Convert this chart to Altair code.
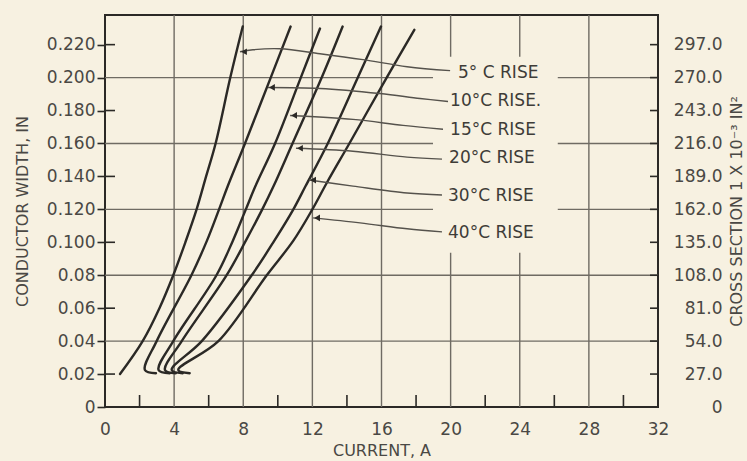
import altair as alt
import pandas as pd

BG = "#f7f1e1"
INK = "#2b2926"
GRID = "#6f6b63"
TXT = "#4a4844"
FONT = "DejaVu Sans"

# ---- curves: current (A) vs conductor width (in) ----
rises = ["5°C", "10°C", "15°C", "20°C", "30°C", "40°C"]
cur_5 = [0.87, 2.18, 3.15, 3.95, 4.65, 5.3, 5.85, 6.4, 7.25, 7.97]
w_5 = [0.020, 0.040, 0.060, 0.080, 0.100, 0.120, 0.140, 0.160, 0.200, 0.231]
cur_10 = [2.95, 2.31, 2.99, 5.0, 5.9, 6.6, 7.1, 8.10, 9.59, 10.74]
w_10 = [0.0205, 0.0225, 0.040, 0.080, 0.101, 0.120, 0.134, 0.160, 0.200, 0.231]
cur_15 = [3.75, 3.10, 3.95, 6.45, 7.4, 8.15, 8.7, 9.84, 11.33, 12.44]
w_15 = [0.0205, 0.0225, 0.040, 0.080, 0.101, 0.120, 0.134, 0.160, 0.200, 0.2298]
cur_20 = [4.1, 3.47, 4.44, 7.04, 8.15, 9.1, 9.75, 10.85, 12.54, 13.75]
w_20 = [0.0205, 0.0225, 0.040, 0.080, 0.101, 0.120, 0.134, 0.160, 0.200, 0.231]
cur_30 = [4.5, 3.86, 5.60, 8.49, 9.8, 10.9, 11.6, 12.89, 14.63, 15.97]
w_30 = [0.0205, 0.0225, 0.040, 0.080, 0.101, 0.120, 0.134, 0.160, 0.200, 0.231]
cur_40 = [4.9, 4.24, 6.56, 9.36, 10.9, 12.0, 12.83, 14.14, 16.3, 17.9]
w_40 = [0.0205, 0.0225, 0.040, 0.080, 0.101, 0.120, 0.136, 0.160, 0.200, 0.229]

# ---- leader lines from labels to curves (first point = arrow tip) ----
lead_cur_5 = [7.81, 8.56, 10.13, 12.44, 14.93, 17.48, 19.97]
lead_w_5 = [0.2157, 0.2169, 0.2175, 0.2145, 0.2109, 0.2066, 0.2042]
lead_cur_10 = [9.43, 12.44, 15.91, 18.23, 19.85]
lead_w_10 = [0.1940, 0.1934, 0.1903, 0.1873, 0.1855]
lead_cur_15 = [10.71, 14.35, 17.25, 19.56]
lead_w_15 = [0.1770, 0.1746, 0.1710, 0.1686]
lead_cur_20 = [11.05, 14.35, 17.48, 19.50]
lead_w_20 = [0.1571, 0.1553, 0.1517, 0.1505]
lead_cur_30 = [11.81, 14.35, 17.48, 19.50]
lead_w_30 = [0.1378, 0.1341, 0.1299, 0.1287]
lead_cur_40 = [12.04, 14.76, 17.48, 19.50]
lead_w_40 = [0.1148, 0.1118, 0.1082, 0.1063]

label_text = ["5° C RISE", "10°C RISE.", "15°C RISE", "20°C RISE", "30°C RISE", "40°C RISE"]
label_cur = [20.43, 19.97, 19.97, 19.91, 19.85, 19.85]
label_w = [0.2026, 0.1855, 0.1684, 0.1509, 0.1281, 0.1059]

# ---- axes / ticks ----
x_ticks = [0, 4, 8, 12, 16, 20, 24, 28, 32]
x_minor = [2, 6, 10, 14, 18, 22, 26, 30]
x_grid = [4, 8, 12, 16, 20, 24, 28]
y_ticks = [0, 0.02, 0.04, 0.06, 0.08, 0.10, 0.12, 0.14, 0.16, 0.18, 0.20, 0.22]
y_grid = [0.04, 0.08, 0.12, 0.16, 0.20]
y_inner_left = [0.02, 0.06, 0.10, 0.14, 0.18, 0.22]
area_factor = 1350  # cross section (x10^-3 in^2) per inch of width

X_MAX = 32
Y_MAX = 0.238
W, H = 553, 392

curves = {"5°C": (cur_5, w_5), "10°C": (cur_10, w_10), "15°C": (cur_15, w_15),
          "20°C": (cur_20, w_20), "30°C": (cur_30, w_30), "40°C": (cur_40, w_40)}
leads = {"5°C": (lead_cur_5, lead_w_5), "10°C": (lead_cur_10, lead_w_10),
         "15°C": (lead_cur_15, lead_w_15), "20°C": (lead_cur_20, lead_w_20),
         "30°C": (lead_cur_30, lead_w_30), "40°C": (lead_cur_40, lead_w_40)}

rows = []
for r in rises:
    cs, ws = curves[r]
    for i, (c, w) in enumerate(zip(cs, ws)):
        rows.append({"curve": r, "seq": i, "current": c, "width": w})
df_curves = pd.DataFrame(rows)

rows = []
tips = []
for r in rises:
    cs, ws = leads[r]
    for i, (c, w) in enumerate(zip(cs, ws)):
        rows.append({"curve": r, "seq": i, "current": c, "width": w})
    tips.append({"curve": r, "current": cs[0], "width": ws[0]})
df_leads = pd.DataFrame(rows)
df_tips = pd.DataFrame(tips)
df_labels = pd.DataFrame({"text": label_text, "current": label_cur, "width": label_w})

xs = alt.Scale(domain=[0, X_MAX], nice=False, zero=False)
ys = alt.Scale(domain=[0, Y_MAX], nice=False, zero=False)

left_label_expr = ("datum.value == 0 ? '0' : (datum.value >= 0.099 ? format(datum.value, '.3f') "
                   ": format(datum.value, '.2f'))")
right_label_expr = f"datum.value == 0 ? '0' : format(datum.value * {area_factor}, '.1f')"

x_axis = alt.Axis(values=x_ticks, format="d", grid=False, ticks=False, domain=False,
                  labelPadding=14, labelFontSize=17, labelFont=FONT, labelColor=TXT,
                  title="CURRENT, A", titleFont=FONT, titleFontSize=16, titleColor=TXT,
                  titleFontWeight="normal", titlePadding=5, labelFlush=False)
y_axis_left = alt.Axis(values=y_ticks, labelExpr=left_label_expr, grid=False, ticks=True,
                       tickSize=8, tickWidth=1.6, tickColor=INK, domain=False, labelPadding=2,
                       labelFontSize=17, labelFont=FONT, labelColor=TXT,
                       title="CONDUCTOR WIDTH, IN", titleFont=FONT, titleFontSize=16,
                       titleColor=TXT, titleFontWeight="normal", titlePadding=16)
y_axis_right = alt.Axis(orient="right", values=y_ticks, labelExpr=right_label_expr, grid=False,
                        ticks=False, domain=False, labelAlign="right", labelPadding=64,
                        labelFontSize=17, labelFont=FONT, labelColor=TXT,
                        title="CROSS SECTION 1 X 10⁻³ IN²", titleAngle=270, titleFont=FONT,
                        titleFontSize=16, titleColor=TXT, titleFontWeight="normal",
                        titlePadding=22)

# grid lines
vgrid = alt.Chart(pd.DataFrame({"current": x_grid})).mark_rule(
    color=GRID, strokeWidth=1.4).encode(
    x=alt.X("current:Q", scale=xs, axis=x_axis), y=alt.value(0), y2=alt.value(H))
hgrid = alt.Chart(pd.DataFrame({"width": y_grid})).mark_rule(
    color=GRID, strokeWidth=1.4).encode(
    y=alt.Y("width:Q", scale=ys, axis=y_axis_left), x=alt.value(0), x2=alt.value(W))

# blank patch behind the labels (grid lines are interrupted there)
gap = alt.Chart(pd.DataFrame({"x1": [18.98], "x2": [26.2], "y1": [0.0937], "y2": [0.2127]})).mark_rect(
    color=BG).encode(x=alt.X("x1:Q", scale=xs, axis=None), x2="x2:Q",
                     y=alt.Y("y1:Q", scale=ys, axis=y_axis_right), y2="y2:Q")

# minor ticks (inward)
bottom_ticks = alt.Chart(pd.DataFrame({"current": x_minor})).mark_rule(
    color=INK, strokeWidth=1.6).encode(x=alt.X("current:Q", scale=xs, axis=None),
                                       y=alt.value(H - 12), y2=alt.value(H))
left_ticks = alt.Chart(pd.DataFrame({"width": y_inner_left})).mark_rule(
    color=INK, strokeWidth=1.6).encode(y=alt.Y("width:Q", scale=ys, axis=None),
                                       x=alt.value(0), x2=alt.value(10))
right_ticks = alt.Chart(pd.DataFrame({"width": y_ticks[1:]})).mark_rule(
    color=INK, strokeWidth=1.6).encode(y=alt.Y("width:Q", scale=ys, axis=None),
                                       x=alt.value(W - 8), x2=alt.value(W))

lines = alt.Chart(df_curves).mark_line(
    color=INK, strokeWidth=2.4, interpolate="catmull-rom", strokeCap="round").encode(
    x=alt.X("current:Q", scale=xs, axis=None), y=alt.Y("width:Q", scale=ys, axis=None),
    detail="curve:N", order="seq:Q")

leaders = alt.Chart(df_leads).mark_line(
    color="#55524c", strokeWidth=1.4, interpolate="catmull-rom").encode(
    x=alt.X("current:Q", scale=xs, axis=None), y=alt.Y("width:Q", scale=ys, axis=None),
    detail="curve:N", order="seq:Q")

arrows = alt.Chart(df_tips).mark_point(
    shape="triangle-left", filled=True, color=INK, size=45, opacity=1, xOffset=4).encode(
    x=alt.X("current:Q", scale=xs, axis=None), y=alt.Y("width:Q", scale=ys, axis=None))

labels = alt.Chart(df_labels).mark_text(
    align="left", baseline="middle", font=FONT, fontSize=17, color="#3e3c38").encode(
    x=alt.X("current:Q", scale=xs, axis=None), y=alt.Y("width:Q", scale=ys, axis=None),
    text="text:N")

chart = alt.layer(
    vgrid, hgrid, gap, bottom_ticks, left_ticks, right_ticks, lines, leaders, arrows, labels
).resolve_axis(x="independent", y="independent").resolve_scale(x="shared", y="shared").properties(
    width=W, height=H,
    autosize=alt.AutoSizeParams(type="none"),
    padding={"left": 105, "top": 15, "right": 89, "bottom": 54},
    background=BG,
).configure_view(stroke=INK, strokeWidth=2)

chart.save("out.html", embed_options={"renderer": "svg", "actions": False})
